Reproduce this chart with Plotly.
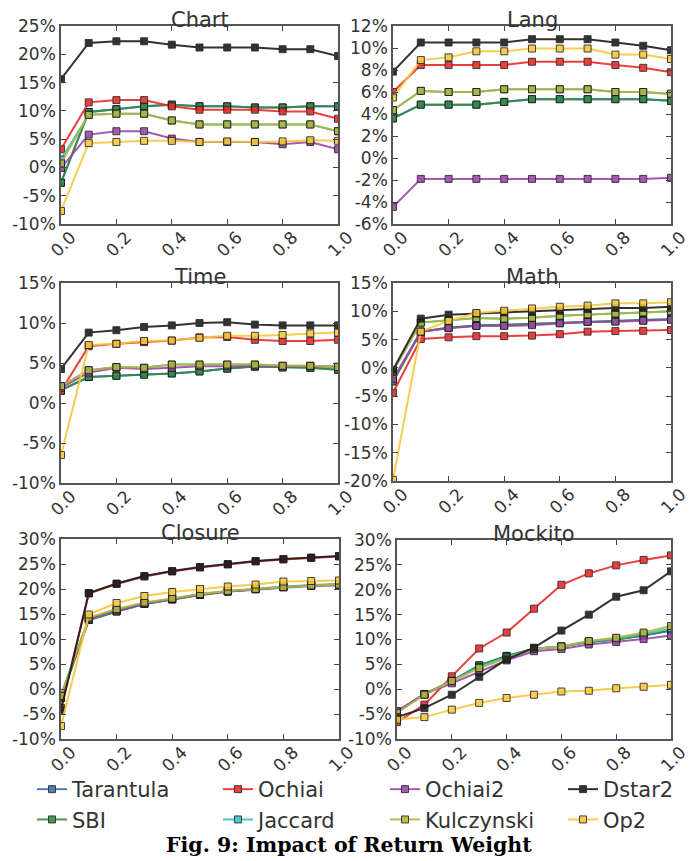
import plotly.graph_objects as go

# page has an 8px body margin; figure is placed at (8, 8) in the 699x861 window
OFF = 8
W, H = 699 - OFF, 861 - OFF

x_vals = [0.0, 0.1, 0.2, 0.3, 0.4, 0.5, 0.6, 0.7, 0.8, 0.9, 1.0]
x_ticks = [0.0, 0.2, 0.4, 0.6, 0.8, 1.0]
x_ticktext = ["0.0", "0.2", "0.4", "0.6", "0.8", "1.0"]

series = ["Tarantula", "SBI", "Ochiai", "Jaccard", "Ochiai2", "Kulczynski", "Dstar2", "Op2"]
colors = {
    "Tarantula": "#3b6cb7", "SBI": "#338a45", "Ochiai": "#ec2a2a", "Jaccard": "#3cbfbf",
    "Ochiai2": "#9a48a8", "Kulczynski": "#b2b43a", "Dstar2": "#1c1c1c", "Op2": "#f7c83a",
}
# legend columns (column-major, as in the reference)
legend_of = {"Tarantula": "legend", "SBI": "legend",
             "Ochiai": "legend2", "Jaccard": "legend2",
             "Ochiai2": "legend3", "Kulczynski": "legend3",
             "Dstar2": "legend4", "Op2": "legend4"}

chart_vals = {
    "Tarantula": [-2.7, 9.8, 10.3, 10.8, 11.1, 10.8, 10.8, 10.6, 10.6, 10.8, 10.8],
    "SBI": [-2.7, 9.8, 10.3, 10.8, 11.1, 10.8, 10.8, 10.6, 10.6, 10.8, 10.8],
    "Ochiai": [3.2, 11.5, 11.9, 11.9, 10.8, 10.2, 10.2, 10.2, 9.9, 9.9, 8.6],
    "Jaccard": [1.4, 9.3, 9.5, 9.5, 8.3, 7.6, 7.6, 7.6, 7.6, 7.6, 6.4],
    "Ochiai2": [-0.1, 5.8, 6.4, 6.4, 5.1, 4.5, 4.5, 4.5, 4.1, 4.5, 3.2],
    "Kulczynski": [0.7, 9.3, 9.5, 9.5, 8.3, 7.6, 7.6, 7.6, 7.6, 7.6, 6.4],
    "Dstar2": [15.6, 22.0, 22.3, 22.3, 21.7, 21.2, 21.2, 21.2, 20.9, 20.9, 19.7],
    "Op2": [-7.7, 4.3, 4.5, 4.7, 4.7, 4.5, 4.6, 4.5, 4.6, 4.8, 4.7],
}
lang_vals = {
    "Tarantula": [3.6, 4.85, 4.85, 4.85, 5.1, 5.35, 5.35, 5.35, 5.35, 5.35, 5.2],
    "SBI": [3.6, 4.85, 4.85, 4.85, 5.1, 5.35, 5.35, 5.35, 5.35, 5.35, 5.2],
    "Ochiai": [6.0, 8.45, 8.45, 8.45, 8.45, 8.75, 8.75, 8.75, 8.45, 8.2, 7.8],
    "Jaccard": [4.35, 6.1, 6.0, 6.0, 6.25, 6.25, 6.25, 6.25, 6.0, 6.0, 5.8],
    "Ochiai2": [-4.45, -1.9, -1.9, -1.9, -1.9, -1.9, -1.9, -1.9, -1.9, -1.9, -1.8],
    "Kulczynski": [4.35, 6.1, 6.0, 6.0, 6.25, 6.25, 6.25, 6.25, 6.0, 6.0, 5.85],
    "Dstar2": [7.85, 10.5, 10.5, 10.5, 10.5, 10.8, 10.8, 10.8, 10.5, 10.2, 9.8],
    "Op2": [5.5, 8.9, 9.15, 9.7, 9.7, 9.95, 9.95, 9.95, 9.4, 9.4, 9.0],
}
time_vals = {
    "Tarantula": [1.6, 3.25, 3.4, 3.55, 3.7, 3.95, 4.3, 4.55, 4.45, 4.4, 4.15],
    "SBI": [1.6, 3.25, 3.4, 3.55, 3.7, 3.95, 4.3, 4.55, 4.45, 4.4, 4.15],
    "Ochiai": [1.5, 7.1, 7.4, 7.6, 7.8, 8.2, 8.25, 7.9, 7.75, 7.75, 7.9],
    "Jaccard": [2.1, 4.1, 4.5, 4.4, 4.8, 4.8, 4.8, 4.8, 4.65, 4.65, 4.5],
    "Ochiai2": [1.9, 3.8, 4.4, 4.25, 4.4, 4.6, 4.6, 4.65, 4.6, 4.6, 4.55],
    "Kulczynski": [2.1, 4.1, 4.5, 4.4, 4.8, 4.8, 4.8, 4.8, 4.65, 4.65, 4.5],
    "Dstar2": [4.25, 8.8, 9.1, 9.5, 9.7, 10.0, 10.1, 9.8, 9.7, 9.7, 9.7],
    "Op2": [-6.5, 7.25, 7.4, 7.75, 7.8, 8.15, 8.4, 8.4, 8.5, 8.7, 8.8],
}
math_vals = {
    "Tarantula": [-2.4, 6.4, 7.1, 7.5, 7.6, 7.8, 8.0, 8.2, 8.3, 8.45, 8.6],
    "SBI": [-2.4, 6.4, 7.1, 7.5, 7.6, 7.8, 8.0, 8.2, 8.3, 8.45, 8.6],
    "Ochiai": [-4.4, 5.1, 5.4, 5.6, 5.6, 5.7, 5.95, 6.4, 6.5, 6.55, 6.7],
    "Jaccard": [-0.6, 8.0, 8.4, 8.8, 8.7, 8.85, 9.2, 9.45, 9.6, 9.8, 10.0],
    "Ochiai2": [-1.95, 6.4, 7.0, 7.4, 7.4, 7.55, 7.85, 8.1, 8.15, 8.3, 8.5],
    "Kulczynski": [-0.6, 8.0, 8.4, 8.8, 8.7, 8.85, 9.2, 9.45, 9.6, 9.8, 10.0],
    "Dstar2": [-0.35, 8.7, 9.4, 9.6, 9.8, 9.9, 10.1, 10.4, 10.6, 10.6, 10.8],
    "Op2": [-19.8, 6.4, 8.3, 9.7, 10.1, 10.5, 10.8, 11.0, 11.4, 11.4, 11.6],
}
closure_vals = {
    "Tarantula": [-1.8, 13.8, 15.5, 17.0, 17.9, 18.8, 19.5, 20.0, 20.4, 20.7, 20.9],
    "SBI": [-1.8, 13.8, 15.5, 17.0, 17.9, 18.8, 19.5, 20.0, 20.4, 20.7, 20.9],
    "Ochiai": [-3.8, 19.1, 21.0, 22.5, 23.5, 24.3, 24.9, 25.5, 25.9, 26.2, 26.5],
    "Jaccard": [-1.2, 14.1, 15.8, 17.2, 18.0, 19.0, 19.6, 20.1, 20.5, 20.8, 21.0],
    "Ochiai2": [-1.5, 14.0, 15.7, 17.1, 18.0, 18.9, 19.5, 19.9, 20.3, 20.6, 20.7],
    "Kulczynski": [-1.4, 14.3, 16.0, 17.3, 18.1, 19.0, 19.6, 20.0, 20.4, 20.7, 20.9],
    "Dstar2": [-4.2, 19.2, 21.1, 22.6, 23.6, 24.4, 25.0, 25.6, 26.0, 26.3, 26.6],
    "Op2": [-7.4, 14.9, 17.2, 18.6, 19.4, 20.0, 20.5, 20.9, 21.5, 21.6, 21.7],
}
mockito_vals = {
    "Tarantula": [-4.5, -1.0, 1.7, 4.8, 6.7, 8.15, 8.6, 9.5, 10.0, 10.8, 11.8],
    "SBI": [-4.5, -1.0, 1.7, 4.8, 6.7, 8.15, 8.6, 9.5, 10.0, 10.8, 11.8],
    "Ochiai": [-6.6, -3.1, 2.6, 8.2, 11.4, 16.2, 21.0, 23.3, 24.9, 26.0, 26.9],
    "Jaccard": [-4.6, -1.05, 1.7, 4.5, 6.5, 8.1, 8.6, 9.6, 10.2, 11.1, 12.2],
    "Ochiai2": [-4.4, -0.95, 1.2, 3.5, 5.8, 7.65, 8.1, 9.0, 9.5, 10.1, 10.8],
    "Kulczynski": [-4.75, -1.1, 1.65, 4.25, 6.2, 8.1, 8.6, 9.7, 10.35, 11.4, 12.7],
    "Dstar2": [-5.6, -3.8, -1.1, 2.5, 6.0, 8.35, 11.8, 15.0, 18.6, 19.9, 23.7],
    "Op2": [-6.1, -5.6, -4.1, -2.75, -1.75, -1.1, -0.45, -0.3, 0.2, 0.5, 0.9],
}

panel_titles = ["Chart", "Lang", "Time", "Math", "Closure", "Mockito"]
panel_data = [chart_vals, lang_vals, time_vals, math_vals, closure_vals, mockito_vals]
y_ticks = [
    [-10, -5, 0, 5, 10, 15, 20, 25],
    [-6, -4, -2, 0, 2, 4, 6, 8, 10, 12],
    [-10, -5, 0, 5, 10, 15],
    [-20, -15, -10, -5, 0, 5, 10, 15],
    [-10, -5, 0, 5, 10, 15, 20, 25, 30],
    [-10, -5, 0, 5, 10, 15, 20, 25, 30],
]

# plot-area boxes in window pixels (left, right, top, bottom)
boxes = [
    (61, 338, 26, 224), (393, 671, 26, 224),
    (61, 338, 283, 483), (393, 671, 283, 481),
    (61, 339, 539, 739), (397, 671, 540, 739),
]


def fx(px):
    return (px - OFF) / W


def fy(py):
    return 1 - (py - OFF) / H


fig = go.Figure()
TXT = "#333333"
FONT = "DejaVu Sans"

for i, (title, data) in enumerate(zip(panel_titles, panel_data)):
    n = "" if i == 0 else str(i + 1)
    for s in series:
        fig.add_trace(go.Scatter(
            x=x_vals, y=data[s], mode="lines+markers", name=s,
            xaxis="x" + n, yaxis="y" + n,
            line=dict(color=colors[s], width=2),
            marker=dict(symbol="square", size=7, color=colors[s],
                        line=dict(color="rgba(25,25,25,0.9)", width=1)),
            opacity=0.9,
            showlegend=(i == 0), legend=legend_of[s],
        ))
    l, r, t, b = boxes[i]
    yt = y_ticks[i]
    fig.layout["xaxis" + n] = dict(
        domain=[fx(l), fx(r)], anchor="y" + n, range=[0, 1],
        tickvals=x_ticks, ticktext=x_ticktext, tickangle=-45,
        ticks="inside", ticklen=5, tickcolor="#444", mirror="ticks",
        showline=True, linecolor="#555", linewidth=1.5, showgrid=False, zeroline=False,
        tickfont=dict(family=FONT, size=17, color=TXT), ticklabelshift=10,
        ticklabelstandoff=-5, automargin=False,
    )
    fig.layout["yaxis" + n] = dict(
        domain=[fy(b), fy(t)], anchor="x" + n, range=[yt[0], yt[-1]],
        tickvals=yt, ticktext=[f"{v}%" for v in yt],
        ticks="inside", ticklen=5, tickcolor="#444", mirror="ticks",
        showline=True, linecolor="#555", linewidth=1.5, showgrid=False, zeroline=False,
        tickfont=dict(family=FONT, size=17, color=TXT), automargin=False,
    )
    fig.add_annotation(
        text=title, x=fx((l + r) / 2), y=fy(t), xref="paper", yref="paper",
        xanchor="center", yanchor="bottom", yshift=-7, showarrow=False,
        borderpad=0, font=dict(family=FONT, size=21, color=TXT),
    )

fig.add_annotation(
    text="<b>Fig. 9: Impact of Return Weight</b>", x=fx(349), y=fy(845),
    xref="paper", yref="paper", xanchor="center", yanchor="middle", showarrow=False,
    font=dict(family="DejaVu Serif", size=20.5, color="black"),
)

legend_x = {"legend": 32, "legend2": 218, "legend3": 385, "legend4": 563}
leg_common = dict(
    orientation="v", yanchor="top", xanchor="left", traceorder="normal",
    font=dict(family=FONT, size=21, color=TXT), bgcolor="rgba(0,0,0,0)",
    tracegroupgap=0,
)

fig.update_layout(
    width=W, height=H, margin=dict(l=0, r=0, t=0, b=0, autoexpand=False),
    paper_bgcolor="white", plot_bgcolor="white",
    **{k: dict(x=fx(v), y=fy(769), **leg_common) for k, v in legend_x.items()},
)

fig.write_html("out.html")
